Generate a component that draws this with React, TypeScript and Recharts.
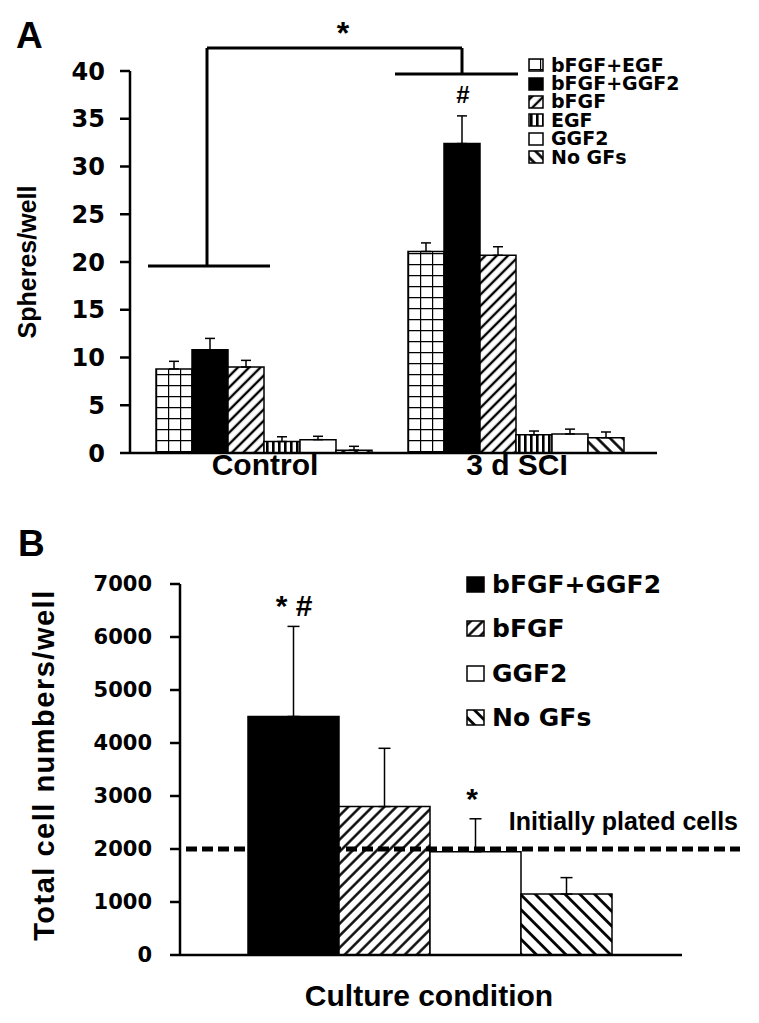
import React from 'react';
import { BarChart, Bar, XAxis, YAxis, ErrorBar, ReferenceLine } from 'recharts';

// Panel A: spheres per well
const conditionsA = ['Control', '3 d SCI'];
const factorsA = ['bFGF+EGF', 'bFGF+GGF2', 'bFGF', 'EGF', 'GGF2', 'No GFs'];
const bfgfEgfA = [8.8, 21.1];
const bfgfGgf2A = [10.8, 32.4];
const bfgfA = [9.0, 20.7];
const egfA = [1.2, 1.9];
const ggf2A = [1.4, 2.0];
const noGfA = [0.3, 1.6];
const bfgfEgfErrA = [0.8, 0.9];
const bfgfGgf2ErrA = [1.2, 2.9];
const bfgfErrA = [0.7, 0.9];
const egfErrA = [0.5, 0.4];
const ggf2ErrA = [0.35, 0.5];
const noGfErrA = [0.4, 0.6];
const ticksA = [0, 5, 10, 15, 20, 25, 30, 35, 40];

// Panel B: total cell numbers per well
const factorsB = ['bFGF+GGF2', 'bFGF', 'GGF2', 'No GFs'];
const cellsB = [4500, 2800, 1950, 1150];
const cellsErrB = [1700, 1100, 620, 310];
const ticksB = [0, 1000, 2000, 3000, 4000, 5000, 6000, 7000];
const platedCells = 2000;

const fillsA = ['url(#gridA)', '#000', 'url(#diagA)', 'url(#vertA)', '#fff', 'url(#backA)'];
const fillsB = ['#000', 'url(#diagB)', '#fff', 'url(#backB)'];

const valuesA = [bfgfEgfA, bfgfGgf2A, bfgfA, egfA, ggf2A, noGfA];
const errsA = [bfgfEgfErrA, bfgfGgf2ErrA, bfgfErrA, egfErrA, ggf2ErrA, noGfErrA];

const dataA = conditionsA.map((name, i) => {
  const row: any = { name };
  valuesA.forEach((vals, k) => {
    row['v' + k] = vals[i];
    row['e' + k] = [0, errsA[k][i]];
  });
  return row;
});

const rowB: any = { name: 'Culture condition' };
cellsB.forEach((v, k) => {
  rowB['v' + k] = v;
  rowB['e' + k] = [0, cellsErrB[k]];
});
const dataB = [rowB];

const TICK_FONT = '"DejaVu Sans", sans-serif';
const TITLE_FONT = '"Liberation Sans", Arial, sans-serif';

const Patterns = () => (
  <svg width={0} height={0} style={{ position: 'absolute' }}>
    <defs>
      <pattern id="gridA" width={12} height={11} patternUnits="userSpaceOnUse">
        <rect width={12} height={11} fill="#fff" />
        <path d="M0 0.5 H12 M0.5 0 V11" stroke="#000" strokeWidth={1.4} />
      </pattern>
      <pattern id="diagA" width={8} height={8} patternUnits="userSpaceOnUse" patternTransform="rotate(45)">
        <rect width={8} height={8} fill="#fff" />
        <line x1={4} y1={0} x2={4} y2={8} stroke="#000" strokeWidth={2.4} />
      </pattern>
      <pattern id="vertA" width={6} height={10} patternUnits="userSpaceOnUse">
        <rect width={6} height={10} fill="#fff" />
        <rect x={2} width={2.6} height={10} fill="#000" />
      </pattern>
      <pattern id="backA" width={9} height={9} patternUnits="userSpaceOnUse" patternTransform="rotate(-45)">
        <rect width={9} height={9} fill="#fff" />
        <line x1={4.5} y1={0} x2={4.5} y2={9} stroke="#000" strokeWidth={2.6} />
      </pattern>
      <pattern id="diagB" width={8.5} height={8.5} patternUnits="userSpaceOnUse" patternTransform="rotate(45)">
        <rect width={8.5} height={8.5} fill="#fff" />
        <line x1={4.25} y1={0} x2={4.25} y2={8.5} stroke="#000" strokeWidth={2.4} />
      </pattern>
      <pattern id="backB" width={10.5} height={10.5} patternUnits="userSpaceOnUse" patternTransform="rotate(-45)">
        <rect width={10.5} height={10.5} fill="#fff" />
        <line x1={5.25} y1={0} x2={5.25} y2={10.5} stroke="#000" strokeWidth={2.8} />
      </pattern>
    </defs>
  </svg>
);

const LegendBox = ({ names, fills, left, top, rowH, sw, sh, fontSize }: any) => (
  <div style={{ position: 'absolute', left, top }}>
    {names.map((n: string, i: number) => (
      <div key={n} style={{ display: 'flex', alignItems: 'center', height: rowH, overflow: 'visible' }}>
        <svg width={sw + 2} height={sh + 2} style={{ marginRight: 7, flexShrink: 0 }}>
          <rect x={1} y={1} width={sw} height={sh} fill={fills[i]} stroke="#000" strokeWidth={1.5} />
        </svg>
        <span style={{ fontFamily: TICK_FONT, fontWeight: 'bold', fontSize, lineHeight: 1, color: '#000', whiteSpace: 'nowrap' }}>{n}</span>
      </div>
    ))}
  </div>
);

const PlatedLine = (p: any) => (
  <g>
    <line x1={p.x1 + 6} y1={p.y1} x2={p.x2 + 58} y2={p.y2} stroke="#000" strokeWidth={5} strokeDasharray="11 5" />
    <text x={p.x2 + 56} y={p.y1 - 19} textAnchor="end" fontFamily={TITLE_FONT} fontWeight="bold" fontSize={25} fill="#000">
      Initially plated cells
    </text>
  </g>
);

export default function App() {
  const axisStroke = { stroke: '#000', strokeWidth: 2.5 };
  return (
    <div style={{ position: 'absolute', left: 0, top: 0, width: 759, height: 1023, background: '#fff' }}>
      <Patterns />
      <div style={{ position: 'absolute', left: 0, top: 0 }}>
        <BarChart width={759} height={500} data={dataA} margin={{ top: 71, right: 102, left: 60, bottom: 7 }} barGap={0} barCategoryGap={17}>
          <XAxis dataKey="name" padding={{ left: 9, right: 14 }} axisLine={axisStroke} tickLine={false} tickSize={0} tickMargin={1} height={40}
            tick={{ fill: '#000', fontSize: 30, fontWeight: 'bold', fontFamily: TITLE_FONT }} />
          <YAxis domain={[0, 40]} ticks={ticksA} width={70} axisLine={axisStroke} tickLine={axisStroke} tickSize={10} tickMargin={15}
            tick={{ fill: '#000', fontSize: 24, fontWeight: 'bold', fontFamily: TICK_FONT }} />
          {factorsA.map((f, k) => (
            <Bar key={f} dataKey={'v' + k} name={f} fill={fillsA[k]} stroke="#000" strokeWidth={1.5} isAnimationActive={false}>
              <ErrorBar dataKey={'e' + k} width={5} stroke="#000" strokeWidth={1.5} direction="y" />
            </Bar>
          ))}
        </BarChart>
      </div>
      <div style={{ position: 'absolute', left: 0, top: 500 }}>
        <BarChart width={759} height={523} data={dataB} margin={{ top: 84, right: 77, left: 100, bottom: 38 }} barGap={0} barCategoryGap={68}>
          <XAxis dataKey="name" padding={{ left: 0, right: 2 }} axisLine={axisStroke} tickLine={false} tick={false} height={30} />
          <YAxis domain={[0, 7000]} ticks={ticksB} width={80} axisLine={axisStroke} tickLine={axisStroke} tickSize={10} tickMargin={18}
            tick={{ fill: '#000', fontSize: 21, fontWeight: 'bold', fontFamily: TICK_FONT }} />
          {factorsB.map((f, k) => (
            <Bar key={f} dataKey={'v' + k} name={f} fill={fillsB[k]} stroke="#000" strokeWidth={1.5} isAnimationActive={false}>
              <ErrorBar dataKey={'e' + k} width={6} stroke="#000" strokeWidth={1.5} direction="y" />
            </Bar>
          ))}
          <ReferenceLine y={platedCells} ifOverflow="visible" shape={PlatedLine} />
        </BarChart>
      </div>

      <LegendBox names={factorsA} fills={fillsA} left={528} top={56} rowH={18.4} sw={14} sh={12} fontSize={19} />
      <LegendBox names={factorsB} fills={fillsB} left={466} top={562} rowH={44.5} sw={17} sh={15} fontSize={25} />

      <svg width={759} height={1023} style={{ position: 'absolute', left: 0, top: 0, pointerEvents: 'none' }}>
        <g fill="#000" fontFamily={TITLE_FONT} fontWeight="bold">
          <text x={16} y={48} fontSize={37}>A</text>
          <text x={18} y={556} fontSize={37}>B</text>
          <text x={343} y={44} fontSize={32} textAnchor="middle">*</text>
          <text x={463} y={103} fontSize={24} textAnchor="middle">#</text>
          <text x={294} y={616} fontSize={30} textAnchor="middle">* #</text>
          <text x={472} y={809} fontSize={30} textAnchor="middle">*</text>
          <text transform="translate(36 262) rotate(-90)" fontSize={25} textAnchor="middle">Spheres/well</text>
          <text transform="translate(54 765) rotate(-90)" fontSize={29} textAnchor="middle" letterSpacing={1.5}>Total cell numbers/well</text>
          <text x={429} y={1006} fontSize={30} textAnchor="middle">Culture condition</text>
        </g>
        <g stroke="#000" strokeWidth={3} fill="none">
          <path d="M207 48 H462 M207 48 V266 M148 266 H270 M462 48 V74 M395 74 H518" />
        </g>
      </svg>
    </div>
  );
}
